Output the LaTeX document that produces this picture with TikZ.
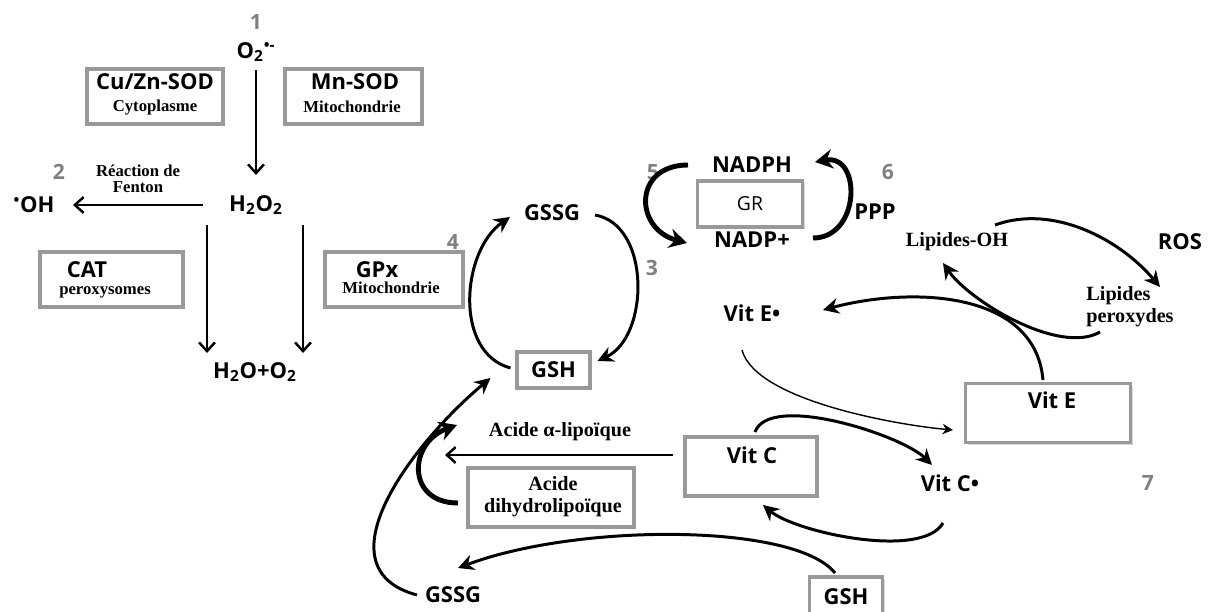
\documentclass[tikz,border=0pt]{standalone}
\usepackage{fontspec}
\setmainfont{Liberation Serif}
\newfontfamily\labfont{Open Sans}
\usetikzlibrary{arrows.meta,shadows}

\tikzset{
  lab/.style={font=\labfont\bfseries\fontsize{12.5}{14}\selectfont, inner sep=1pt},
  num/.style={font=\labfont\bfseries\fontsize{12}{14}\selectfont, text=gray, inner sep=1pt},
  note/.style={font=\bfseries\fontsize{9.5}{11}\selectfont, align=center, inner sep=1pt},
  big/.style={font=\bfseries\fontsize{11.5}{12.5}\selectfont, inner sep=1pt},
  enzbox/.style 2 args={draw=gray!80, line width=2.2pt, fill=white,
    minimum width=#1*0.02cm, minimum height=#2*0.02cm,
    drop shadow={opacity=0.3, shadow xshift=1.2pt, shadow yshift=-1.2pt}},
  plain/.style={line width=1.4pt, -{Straight Barb[length=5pt,width=9pt]}},
  fat/.style={line width=2.8pt, -{Stealth[length=10pt,width=11pt]}},
  med/.style={line width=1.7pt, -{Stealth[length=9pt,width=9pt]}},
  thin/.style={line width=0.8pt, -{Stealth[length=6pt,width=6pt]}}
}

\begin{document}
\begin{tikzpicture}[x=0.02cm,y=0.02cm]
\useasboundingbox (0,0) rectangle (1208,-612);

% superoxide, dismutases
\node[num] (n1) at (256,-22) {1};
\node[lab] (o2) at (256,-52) {O\textsubscript{2}\textsuperscript{•-}};
\node[enzbox={136}{55}] (cuzn) at (155,-96.5) {};
\node[lab] (cuznT) at (155,-82) {Cu/Zn-SOD};
\node[note] (cuznL) at (155,-108) {Cytoplasme};
\node[enzbox={137}{55}] (mnsod) at (353.5,-96.5) {};
\node[lab] (mnsodT) at (355,-82) {Mn-SOD};
\node[note] (mnsodL) at (352,-107) {Mitochondrie};

% hydrogen peroxide
\node[lab] (h2o2) at (256,-205) {H\textsubscript{2}O\textsubscript{2}};
\node[num] (n2) at (59,-172) {2};
\node[note] (fenton) at (138,-179) {Réaction de\\[-2pt]Fenton};
\node[lab] (oh) at (34,-205) {\textsuperscript{•}OH};
\node[enzbox={143}{55}] (cat) at (111.5,-279.5) {};
\node[lab] (catT) at (87,-270) {CAT};
\node[note] (catL) at (105,-292) {peroxysomes};
\node[enzbox={138}{55}] (gpx) at (394,-279.5) {};
\node[lab] (gpxT) at (377,-270) {GPx};
\node[note] (gpxL) at (391,-288) {Mitochondrie};
\node[num] (n4) at (453,-242) {4};
\node[lab] (h2o) at (255,-372) {H\textsubscript{2}O+O\textsubscript{2}};

\draw[plain] ([shift={(0,-18)}]o2.center) -- ([shift={(0,30)}]h2o2.center);
\draw[plain] ([shift={(-53,0)}]h2o2.center) -- ([shift={(39,0)}]oh.center);
\draw[plain] ([shift={(-49,-20)}]h2o2.center) -- ([shift={(-48,19)}]h2o.center);
\draw[plain] ([shift={(47,-20)}]h2o2.center) -- ([shift={(48,19)}]h2o.center);

% glutathione cycle
\node[lab] (gssg) at (552,-213) {GSSG};
\node[lab,enzbox={73}{36}] (gsh) at (553.5,-370) {GSH};
\node[num] (n3) at (652,-268) {3};
\draw[med] ([shift={(-43,2)}]gsh.center) to[out=165,in=215] ([shift={(-42,-4)}]gssg.center);
\draw[med] ([shift={(43,-2)}]gssg.center) to[out=-10,in=25] ([shift={(44,9)}]gsh.center);

% glutathione reductase
\node[num] (n5) at (653,-172) {5};
\node[lab] (nadph) at (752,-165) {NADPH};
\node[enzbox={105}{46}, font=\labfont\fontsize{11}{12}\selectfont] (gr) at (750,-204) {GR};
\node[lab] (nadp) at (752,-240) {NADP+};
\node[num] (n6) at (888,-172) {6};
\node[lab] (ppp) at (875,-212) {PPP};
\draw[fat] ([shift={(-64,0)}]nadph.center) to[out=180,in=165,looseness=1.8] ([shift={(-65,-3)}]nadp.center);
\draw[fat] ([shift={(61,2)}]nadp.center) to[out=0,in=10,looseness=1.6] ([shift={(63,3)}]nadph.center);

% lipids
\node[big] (lipoh) at (957,-242) {Lipides-OH};
\node[lab] (ros) at (1180,-242) {ROS};
\node[big, align=left] (lipp) at (1130,-307) {Lipides\\peroxydes};
\draw[med] ([shift={(38,17)}]lipoh.center) to[out=20,in=130,looseness=0.9] ([shift={(30,20)}]lipp.center);
\draw[med] ([shift={(-30,-25)}]lipp.center) to[out=210,in=-55,looseness=0.7] ([shift={(-14,-21)}]lipoh.center);

% vitamin E
\node[lab] (vitedot) at (752,-313) {Vit E•};
\node[enzbox={165}{59}] (vite) at (1048,-413) {};
\node[lab] (viteT) at (1052,-400) {Vit E};
\draw[med] ([shift={(-5,33)}]vite.center) to[out=95,in=15] ([shift={(71,3)}]vitedot.center);
\draw[thin] ([shift={(-10,-37)}]vitedot.center) to[out=-75,in=175,looseness=0.6] ([shift={(-95,-17)}]vite.center);

% vitamin C
\node[enzbox={132}{59}] (vitc) at (751,-466.5) {};
\node[lab] (vitcT) at (752,-455) {Vit C};
\node[lab] (vitcdot) at (950,-483) {Vit C•};
\node[num] (n7) at (1148,-483) {7};
\draw[med] ([shift={(4,34.5)}]vitc.center) to[out=70,in=135,looseness=0.6] ([shift={(-18,18)}]vitcdot.center);
\draw[med] ([shift={(-7,-40)}]vitcdot.center) to[out=240,in=-40,looseness=0.6] ([shift={(12,-38.5)}]vitc.center);

% lipoic acid
\node[big] (alpha) at (560,-432) {Acide α-lipoïque};
\coordinate (lipend) at (445,-455);
\node[enzbox={166}{59}] (dhla) at (551,-497.5) {};
\node[big, align=center] (dhlaT) at (553,-497) {Acide\\dihydrolipoïque};
\draw[plain] ([shift={(-78,11.5)}]vitc.center) -- (lipend);
\draw[fat] ([shift={(-93,-5.5)}]dhla.center) to[out=180,in=200,looseness=1.7] ([shift={(-103,7)}]alpha.center);

% bottom glutathione
\node[lab] (gssgb) at (453,-595) {GSSG};
\node[lab,enzbox={73}{40}] (gshb) at (846,-597) {GSH};
\draw[med] ([shift={(-36,0)}]gssgb.center) to[out=165,in=220,looseness=1.15] ([shift={(-63,-8)}]gsh.center);
\draw[med] ([shift={(-11,24)}]gshb.center) .. controls +(-40,50) and +(120,45) .. ([shift={(5,27)}]gssgb.center);

\end{tikzpicture}
\end{document}
